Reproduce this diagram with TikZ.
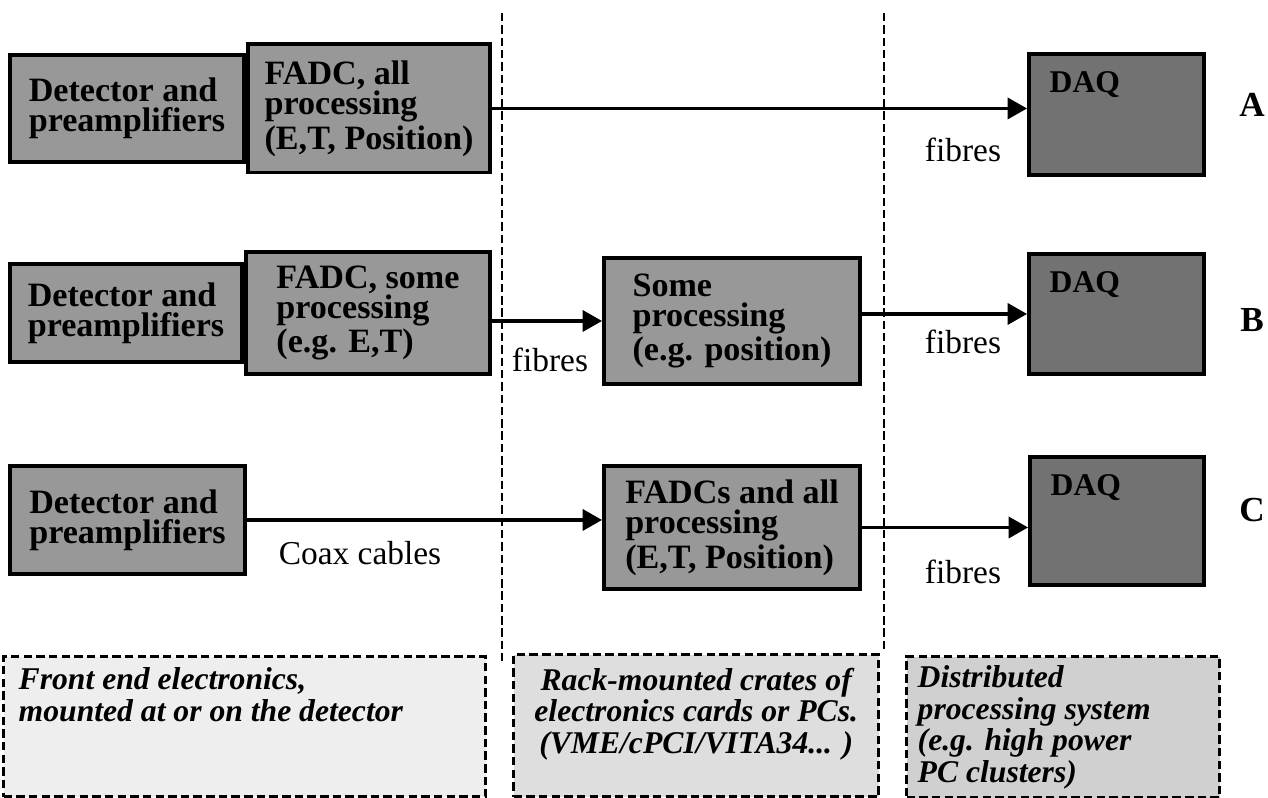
\documentclass[tikz,border=0pt]{standalone}
\usepackage{fontspec}
\setmainfont{Liberation Serif}
\usetikzlibrary{positioning,arrows.meta}
\definecolor{FEGray}{RGB}{152,152,152}
\definecolor{DAQGray}{RGB}{114,114,114}
\definecolor{NoteFront}{RGB}{238,238,238}
\definecolor{NoteRack}{RGB}{222,222,222}
\definecolor{NoteDist}{RGB}{208,208,208}

\begin{document}
\begin{tikzpicture}[
x=0.01cm,y=-0.01cm,
box/.style 2 args={
rectangle,draw=black,line width=1.1pt,fill=FEGray,
anchor=north west,minimum width=#1,minimum height=#2,
inner sep=0pt,align=left,
font=\fontsize{9.7}{8.6}\selectfont\bfseries
},
daq/.style 2 args={
rectangle,draw=black,line width=1.1pt,fill=DAQGray,
anchor=north west,minimum width=#1,minimum height=#2,inner sep=0pt,
label={[anchor=north west,xshift=0.22cm,yshift=-0.19cm,inner sep=0pt,font=\fontsize{9}{9}\selectfont\bfseries]north west:DAQ}
},
note/.style 2 args={
rectangle,draw=black,line width=0.9pt,dash pattern=on 2.4pt off 1.2pt,
anchor=north west,minimum width=#1,minimum height=#2,inner sep=0pt
},
notetext/.style={inner sep=0pt,font=\fontsize{9}{9}\selectfont\bfseries\itshape},
lbl/.style={inner sep=0pt,font=\fontsize{9.5}{9.5}\selectfont},
rowlbl/.style={inner sep=0pt,font=\fontsize{10}{10}\selectfont\bfseries},
arrow/.style={-{Triangle[length=5.5pt,width=6pt]},line width=0.9pt},
divider/.style={line width=0.8pt,dash pattern=on 2.4pt off 1.1pt}
]
\useasboundingbox (0,0) rectangle (1268,797);

% dividers between the three stages
\draw[divider] (502,13) -- (502,662);
\draw[divider] (884,13) -- (884,650);

% option A
\node[box={2.34cm}{1.07cm}] (detA) at (8,53) {Detector and\\preamplifiers};
\node[box={2.42cm}{1.28cm},right=0pt of detA] (fadcA) {FADC, all\\processing\\(E,T, Position)};
\node[daq={1.75cm}{1.21cm}] (daqA) at (1027,52) {};
\node[rowlbl] (rowA) at (1252,105) {A};

\draw[arrow] (fadcA.east) -- (fadcA.east -| daqA.west);
\node[lbl] (fibA) at (963,150) {fibres};

% option B
\node[box={2.32cm}{0.98cm}] (detB) at (8,262) {Detector and\\preamplifiers};
\node[box={2.44cm}{1.22cm},right=0pt of detB] (fadcB) {FADC, some\\processing\\(e.g. E,T)};
\node[box={2.56cm}{1.26cm}] (someB) at (602,256) {Some\\processing\\(e.g. position)};
\node[daq={1.75cm}{1.20cm}] (daqB) at (1027,252) {};
\node[rowlbl] (rowB) at (1252,320) {B};

\draw[arrow] (someB.west -| fadcB.east) -- (someB.west);
\draw[arrow] (daqB.west -| someB.east) -- (daqB.west);
\node[lbl] (fibB1) at (550,360) {fibres};
\node[lbl] (fibB2) at (963,342) {fibres};

% option C
\node[box={2.35cm}{1.08cm}] (detC) at (8,464) {Detector and\\preamplifiers};
\node[box={2.56cm}{1.23cm}] (fadcsC) at (602,464) {FADCs and all\\processing\\(E,T, Position)};
\node[daq={1.74cm}{1.28cm}] (daqC) at (1028,455) {};
\node[rowlbl] (rowC) at (1252,510) {C};

\draw[arrow] (detC.east) -- (detC.east -| fadcsC.west);
\draw[arrow] (fadcsC.east) -- (fadcsC.east -| daqC.west);
\node[lbl] (coax) at (360,553) {Coax cables};
\node[lbl] (fibC) at (963,572) {fibres};

% stage descriptions
\node[note={4.82cm}{1.40cm},fill=NoteFront] (front) at (2,655) {};
\node[notetext,anchor=north west,align=left] (frontText) at ([shift={(16,12)}]front.north west) {Front end electronics,\\mounted at or on the detector};

\node[note={3.65cm}{1.42cm},fill=NoteRack] (rack) at (512,653) {};
\node[notetext,anchor=north,align=center] (rackText) at ([yshift=-0.14cm]rack.north) {Rack-mounted crates of\\electronics cards or PCs.\\(VME/cPCI/VITA34... )};

\node[note={3.13cm}{1.41cm},fill=NoteDist] (dist) at (905,655) {};
\node[notetext,anchor=north west,align=left] (distText) at ([shift={(12,10)}]dist.north west) {Distributed\\processing system\\(e.g. high power\\PC clusters)};

\end{tikzpicture}
\end{document}
